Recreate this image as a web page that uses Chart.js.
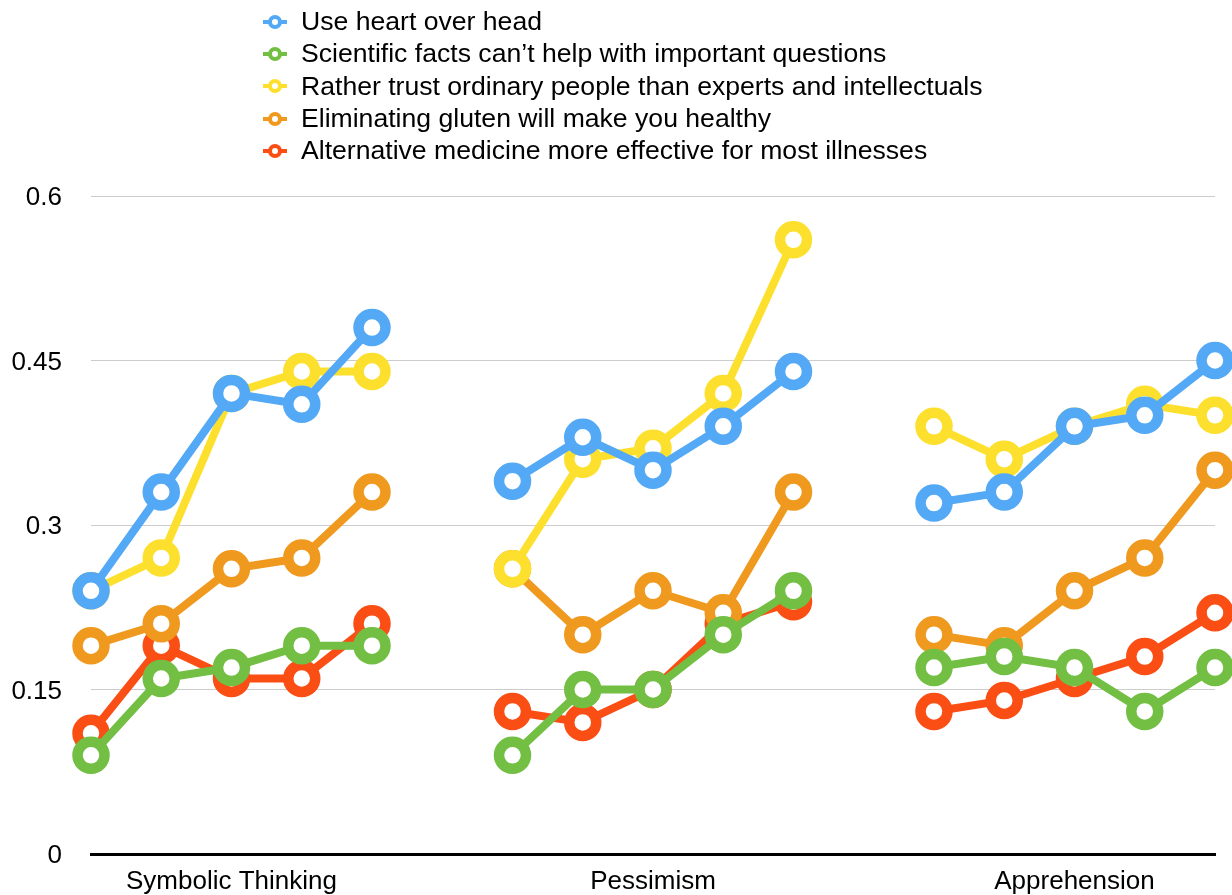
<!DOCTYPE html>
<html>
<head>
<meta charset="utf-8">
<script src="https://cdn.jsdelivr.net/npm/chart.js@4"></script>
<style>
html,body{margin:0;padding:0;background:#fff;}
#wrap{position:relative;width:1232px;height:895px;overflow:hidden;}
#legend{position:absolute;left:263px;top:5.5px;font-family:"Liberation Sans",Arial,Helvetica,sans-serif;font-size:26.6px;color:#000;}
.item{display:flex;align-items:center;height:32.3px;white-space:nowrap;}
.mk{position:relative;width:24px;height:16px;margin-right:14px;flex:none;}
.mk .ln{position:absolute;left:0;right:0;top:6px;height:4px;}
.mk .ci{position:absolute;left:5px;top:1px;width:6px;height:6px;border:4px solid;border-radius:50%;background:#fff;}
</style>
</head>
<body>
<div id="wrap">
<canvas id="c" width="1232" height="895"></canvas>
<div id="legend"></div>
</div>
<script>
// ---- data ----
const categories = ['', '', 'Symbolic Thinking', '', '', '', '', '', 'Pessimism', '', '', '', '', '', 'Apprehension', '', ''];
const seriesNames = [
  'Use heart over head',
  'Scientific facts can\u2019t help with important questions',
  'Rather trust ordinary people than experts and intellectuals',
  'Eliminating gluten will make you healthy',
  'Alternative medicine more effective for most illnesses'
];
const heartOverHead   = [0.24, 0.33, 0.42, 0.41, 0.48, null, 0.34, 0.38, 0.35, 0.39, 0.44, null, 0.32, 0.33, 0.39, 0.40, 0.45];
const scienceCantHelp = [0.09, 0.16, 0.17, 0.19, 0.19, null, 0.09, 0.15, 0.15, 0.20, 0.24, null, 0.17, 0.18, 0.17, 0.13, 0.17];
const trustOrdinary   = [0.24, 0.27, 0.42, 0.44, 0.44, null, 0.26, 0.36, 0.37, 0.42, 0.56, null, 0.39, 0.36, 0.39, 0.41, 0.40];
const glutenHealthy   = [0.19, 0.21, 0.26, 0.27, 0.33, null, 0.26, 0.20, 0.24, 0.22, 0.33, null, 0.20, 0.19, 0.24, 0.27, 0.35];
const altMedicine     = [0.11, 0.19, 0.16, 0.16, 0.21, null, 0.13, 0.12, 0.15, 0.21, 0.23, null, 0.13, 0.14, 0.16, 0.18, 0.22];
const yTicks = [0, 0.15, 0.3, 0.45, 0.6];

const seriesValues = [heartOverHead, scienceCantHelp, trustOrdinary, glutenHealthy, altMedicine];
const colors = ['#53a9f5', '#72bf44', '#fde02e', '#f0991f', '#fb4e14'];
const FONT = '"Liberation Sans", Arial, Helvetica, sans-serif';

const datasets = seriesValues.map((vals, i) => ({
  label: seriesNames[i],
  data: vals,
  borderColor: colors[i],
  backgroundColor: colors[i],
  borderWidth: 8,
  pointRadius: 13.5,
  pointHoverRadius: 13.5,
  pointBorderWidth: 10.5,
  pointHoverBorderWidth: 10.5,
  pointBackgroundColor: '#ffffff',
  pointBorderColor: colors[i],
  tension: 0,
  spanGaps: false,
  clip: false
}));

const htmlLegend = {
  id: 'htmlLegend',
  afterUpdate(chart) {
    const box = document.getElementById('legend');
    box.innerHTML = '';
    chart.data.datasets.forEach(ds => {
      const item = document.createElement('div');
      item.className = 'item';
      const mk = document.createElement('span');
      mk.className = 'mk';
      const ln = document.createElement('span');
      ln.className = 'ln';
      ln.style.background = ds.borderColor;
      const ci = document.createElement('span');
      ci.className = 'ci';
      ci.style.borderColor = ds.borderColor;
      mk.appendChild(ln); mk.appendChild(ci);
      const tx = document.createElement('span');
      tx.textContent = ds.label;
      item.appendChild(mk); item.appendChild(tx);
      box.appendChild(item);
    });
  }
};

new Chart(document.getElementById('c'), {
  type: 'line',
  data: { labels: categories, datasets },
  plugins: [htmlLegend],
  options: {
    responsive: false,
    animation: false,
    devicePixelRatio: 1,
    layout: { autoPadding: false, padding: { top: 196, right: 17, left: 0, bottom: 0 } },
    plugins: { legend: { display: false }, tooltip: { enabled: false } },
    scales: {
      x: {
        grid: { display: false, drawTicks: false },
        border: { display: true, color: '#000000', width: 3 },
        afterFit: s => { s.height = 41; },
        ticks: { autoSkip: false, maxRotation: 0, minRotation: 0, padding: 12, color: '#000', font: { family: FONT, size: 26 } }
      },
      y: {
        min: 0, max: 0.6,
        afterBuildTicks: s => { s.ticks = yTicks.map(v => ({ value: v })); },
        afterFit: s => { s.width = 91; },
        grid: {
          color: c => (c.tick && c.tick.value === 0) ? 'rgba(0,0,0,0)' : '#cccccc',
          lineWidth: 1,
          drawTicks: true,
          tickLength: 29,
          tickColor: 'rgba(0,0,0,0)'
        },
        border: { display: false },
        ticks: { padding: 0, labelOffset: 2, color: '#000', font: { family: FONT, size: 26 }, callback: v => String(v) }
      }
    }
  }
});
</script>
</body>
</html>
